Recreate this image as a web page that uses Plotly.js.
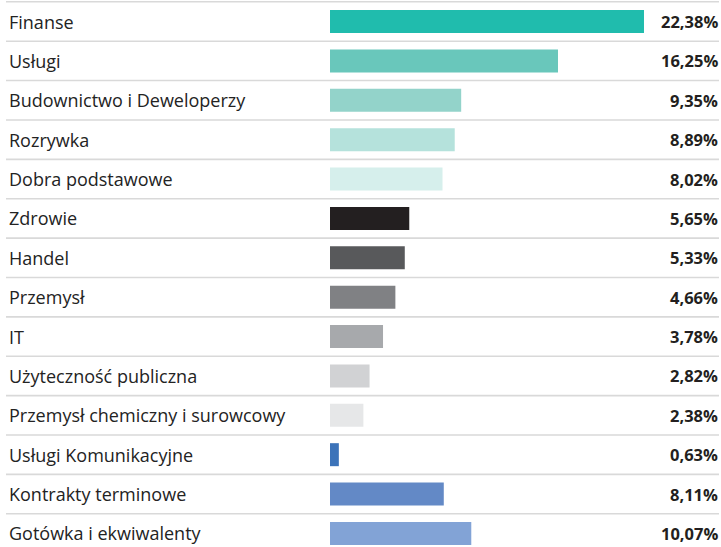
<!DOCTYPE html>
<html><head><meta charset="utf-8">
<script src="https://cdn.plot.ly/plotly-3.0.1.min.js"></script>
<style>html,body{margin:0;padding:0;background:#fff;}#chart{width:721px;height:547px;}</style>
</head><body><div id="chart"></div>
<script>
const categories = ["Finanse","Usługi","Budownictwo i Deweloperzy","Rozrywka","Dobra podstawowe","Zdrowie","Handel","Przemysł","IT","Użyteczność publiczna","Przemysł chemiczny i surowcowy","Usługi Komunikacyjne","Kontrakty terminowe","Gotówka i ekwiwalenty"];
const values = [22.38,16.25,9.35,8.89,8.02,5.65,5.33,4.66,3.78,2.82,2.38,0.63,8.11,10.07];
const valueLabels = ["22,38%","16,25%","9,35%","8,89%","8,02%","5,65%","5,33%","4,66%","3,78%","2,82%","2,38%","0,63%","8,11%","10,07%"];
const colors = ["#20bcad","#69c7bb","#93d3ca","#b5e2dc","#d6efec","#231f20","#58595b","#808184","#a7a9ac","#d1d2d4","#e6e7e8","#3c73b9","#6389c6","#82a3d6"];

const W = 721, H = 547;
const x0 = 330, pxPerUnit = 14.03;
const rowH = 39.38, firstCenter = 21.5;

const idx = categories.map((c,i)=>i);
const trace = {
  type: 'bar', orientation: 'h',
  x: values, y: idx,
  marker: {color: colors},
  width: 23/rowH,
  hoverinfo: 'skip'
};

const annotations = [];
categories.forEach((c,i)=>{
  annotations.push({xref:'paper', yref:'y', x: 7/W, y: i, text: c, showarrow:false, xanchor:'left', yanchor:'middle',
    font:{family:'"Open Sans", sans-serif', size:18, color:'#232323'}});
  annotations.push({xref:'paper', yref:'y', x: 720/W, y: i, text: '<b>'+valueLabels[i]+'</b>', showarrow:false, xanchor:'right', yanchor:'middle',
    font:{family:'"Open Sans", sans-serif', size:16.5, color:'#231f20'}});
});
const shapes = [];
for (let i=0;i<categories.length;i++){
  shapes.push({type:'line', xref:'paper', yref:'y', x0: 6/W, x1: 719/W, y0: i-0.5, y1: i-0.5, line:{color:'#d9d9d9', width:1.6}});
}

const layout = {
  width: W, height: H,
  margin: {l:0, r:0, t:0, b:0, pad:0},
  paper_bgcolor:'#fff', plot_bgcolor:'#fff',
  showlegend:false,
  xaxis: {domain:[x0/W, 1], range:[0, (W-x0)/pxPerUnit], visible:false, fixedrange:true},
  yaxis: {range:[(H-firstCenter)/rowH, -firstCenter/rowH], visible:false, fixedrange:true},
  annotations, shapes
};
Plotly.newPlot('chart', [trace], layout, {displayModeBar:false, staticPlot:true});
</script></body></html>
